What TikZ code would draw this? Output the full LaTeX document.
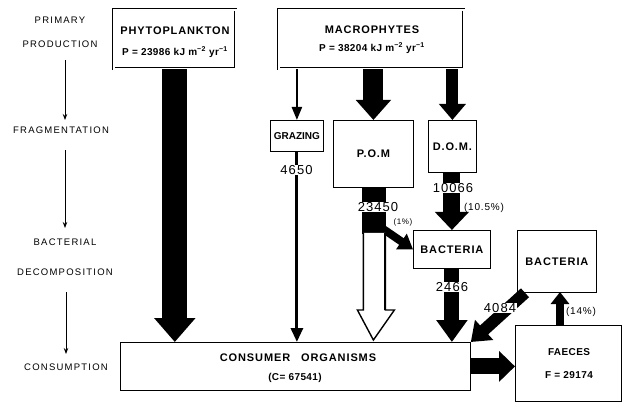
\documentclass[tikz,border=0pt]{standalone}
\usepackage{fontspec}
\setmainfont{Liberation Sans}
\newfontfamily\wsp[LetterSpace=8]{Liberation Sans}
\newfontfamily\wspl[LetterSpace=13]{Liberation Sans}
\newfontfamily\wsps[LetterSpace=4]{Liberation Sans}
\usetikzlibrary{arrows.meta,calc}
\begin{document}
\begin{tikzpicture}[x=1pt,y=-1pt,
  lab/.style={font=\wspl\fontsize{9.5}{11}\selectfont},
  boxd/.style={draw,line width=0.6pt,double,double distance=1.6pt,inner sep=0pt,align=center},
  boxs/.style={draw,line width=0.8pt,inner sep=0pt,align=center},
  btxt/.style={inner sep=0pt,font=\wsp\bfseries\fontsize{11}{13}\selectfont},
  ptxt/.style={inner sep=0pt,font=\wsps\bfseries\fontsize{10}{12}\selectfont},
  num/.style={fill=white,inner sep=0.6pt,font=\wsp\fontsize{13}{14}\selectfont},
  pct/.style={inner sep=0.5pt,font=\wsp\fontsize{10}{11}\selectfont},
  thin/.style={line width=0.9pt,-{Stealth[length=6pt,width=4.5pt]}},
]
\useasboundingbox[fill=white] (0,0) rectangle (623,403);
% left stage labels
\node[lab] (l1) at (60,20) {PRIMARY};
\node[lab] (l2) at (60,44) {PRODUCTION};
\node[lab] (l3) at (61,130) {FRAGMENTATION};
\node[lab] (l4) at (65,242) {BACTERIAL};
\node[lab] (l5) at (65,272) {DECOMPOSITION};
\node[lab] (l6) at (66,367) {CONSUMPTION};
\coordinate (a1) at (65,60);  \coordinate (a2) at (65,120);
\coordinate (a3) at (65,150); \coordinate (a4) at (65,228);
\coordinate (a5) at (66,292); \coordinate (a6) at (66,354);
\draw[thin] (a1) -- (a2);
\draw[thin] (a3) -- (a4);
\draw[thin] (a5) -- (a6);
% boxes
\node[boxd,minimum width=122pt,minimum height=59pt,anchor=north west] (phy) at (113.5,9.5) {};
\node[btxt] (t1) at (175,31) {PHYTOPLANKTON};
\node[ptxt] (t2) at (175,52) {P = 23986 kJ m\textsuperscript{−2} yr\textsuperscript{−1}};
\node[boxd,minimum width=185pt,minimum height=59pt,anchor=north west] (mac) at (278.5,9.5) {};
\node[btxt] (t3) at (372,30) {MACROPHYTES};
\node[ptxt] (t4) at (372,48) {P = 38204 kJ m\textsuperscript{−2} yr\textsuperscript{−1}};
\node[boxs,minimum width=53pt,minimum height=31pt,anchor=north west,font=\bfseries\fontsize{10}{12}\selectfont] (gra) at (270,120) {GRAZING};
\node[boxs,minimum width=80pt,minimum height=67pt,anchor=north west,btxt] (pom) at (333,120) {P.O.M};
\node[boxs,minimum width=48pt,minimum height=52pt,anchor=north west,btxt] (dom) at (428,120) {D.O.M.};
\node[boxs,minimum width=77pt,minimum height=38pt,anchor=north west,btxt] (ba1) at (413,230) {BACTERIA};
\node[boxs,minimum width=79pt,minimum height=62pt,anchor=north west,btxt] (ba2) at (517,230) {BACTERIA};
\node[boxs,minimum width=350pt,minimum height=48pt,anchor=north west] (con) at (120,342) {};
\node[btxt] (t5) at (298,358) {CONSUMER\quad ORGANISMS};
\node[ptxt] (t6) at (295,378) {(C= 67541)};
\node[boxs,minimum width=106pt,minimum height=76pt,anchor=north west] (fae) at (515,325) {};
\node[ptxt] (t7) at (569,352) {FAECES};
\node[ptxt] (t8) at (569,375) {F = 29174};
% phytoplankton -> consumers
\draw[line width=25pt,-{Triangle[width=40pt,length=24pt]}] (phy.south) -- (phy.south |- con.north);
% macrophytes -> grazing, POM, DOM
\draw[line width=2.2pt,-{Triangle[width=10pt,length=13pt]}] (mac.south -| gra.north) -- (gra.north);
\draw[line width=20pt,-{Triangle[width=34pt,length=20pt]}] (mac.south -| pom.north) -- (pom.north);
\draw[line width=12pt,-{Triangle[width=26pt,length=16pt]}] (mac.south -| dom.north) -- (dom.north);
% grazing -> consumers
\draw[line width=3pt,-{Triangle[width=12pt,length=14pt]}] (gra.south) -- (gra.south |- con.north);
\node[num] (n1) at (296.5,170) {4650};
% POM -> consumers (hollow) and bacteria
\coordinate (pb) at (pom.south);
\draw[fill=black] ($(pb)+(-11,0)$) rectangle ($(pb)+(12,45)$);
\draw[line width=8pt,-{Triangle[width=18pt,length=14pt]}] ($(pb)+(8,40)$) -- (ba1.west);
\draw[fill=white,line width=1.4pt,line join=miter]
  ($(pb)+(-10,45)$) -- ($(pb |- con.north)+(-10,-32)$) -- ($(pb |- con.north)+(-16,-32)$)
  -- ($(pb |- con.north)+(0,-2)$) -- ($(pb |- con.north)+(21,-32)$) -- ($(pb |- con.north)+(12,-32)$)
  -- ($(pb)+(12,45)$);
\draw[line width=2pt] ($(pb)+(12,45)$) -- ($(pb |- con.north)+(12,-32)$);
\node[num] (n2) at (378,207) {23450};
\node[pct,font=\wsp\fontsize{8}{9}\selectfont] (p1) at (403,222) {(1\%)};
% DOM -> bacteria
\draw[line width=17pt,-{Triangle[width=33pt,length=18pt]}] (dom.south -| ba1.north) -- (ba1.north);
\node[num] (n3) at (453,188) {10066};
\node[pct] (p2) at (484,208) {(10.5\%)};
% bacteria -> consumers
\draw[line width=15pt,-{Triangle[width=30pt,length=22pt]}] (ba1.south) -- (ba1.south |- con.north);
\node[num] (n4) at (452,287) {2466};
% right bacteria -> consumers
\draw[line width=12pt,-{Triangle[width=26pt,length=18pt]}] (ba2.south west) ++(8,0) -- (con.north east);
\node[num] (n5) at (500,308) {4084};
% faeces -> bacteria
\coordinate (f1) at (560,325); \coordinate (f2) at (560,292);
\draw[line width=8pt,-{Triangle[width=18pt,length=12pt]}] (f1) -- (f2);
\node[pct] (p3) at (581,312) {(14\%)};
% consumers -> faeces
\draw[line width=16pt,-{Triangle[width=30pt,length=16pt]}] (con.east) -- (fae.west |- con.east);
\end{tikzpicture}
\end{document}
